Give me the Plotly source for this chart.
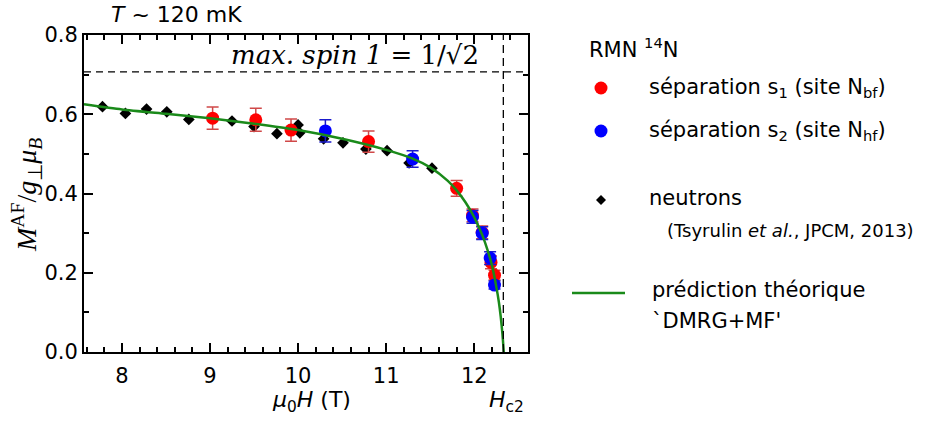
import plotly.graph_objects as go
import numpy as np

# ---- data ----
neut_x = [7.78, 8.04, 8.28, 8.51, 8.76, 9.25, 9.50, 9.76, 10.00, 10.02, 10.29, 10.51, 10.77, 11.01, 11.26, 11.52]
neut_y = [0.619, 0.602, 0.613, 0.606, 0.587, 0.583, 0.569, 0.551, 0.573, 0.553, 0.538, 0.528, 0.512, 0.508, 0.477, 0.464]

s1_x = [9.03, 9.52, 9.92, 10.80, 11.80, 11.98, 12.09, 12.19, 12.23]
s1_y = [0.590, 0.586, 0.560, 0.531, 0.413, 0.345, 0.302, 0.226, 0.194]
s1_err = [0.028, 0.029, 0.028, 0.027, 0.020, 0.016, 0.016, 0.016, 0.012]

s2_x = [10.31, 11.30, 11.98, 12.09, 12.18, 12.23]
s2_y = [0.558, 0.487, 0.341, 0.300, 0.237, 0.169]
s2_err = [0.028, 0.021, 0.016, 0.016, 0.016, 0.010]

th_x = [7.57, 8.0, 8.5, 9.0, 9.5, 10.0, 10.5, 11.0, 11.3, 11.5, 11.7, 11.8, 11.9, 12.0, 12.05, 12.1, 12.15, 12.2, 12.25, 12.28, 12.30, 12.32, 12.335]
th_y = [0.625, 0.612, 0.601, 0.590, 0.576, 0.560, 0.538, 0.510, 0.488, 0.466, 0.432, 0.408, 0.378, 0.340, 0.316, 0.290, 0.258, 0.220, 0.165, 0.125, 0.090, 0.045, 0.0]

max_spin = 1 / np.sqrt(2)
hc2 = 12.33
x_range = [7.57, 12.61]
y_range = [0.0, 0.8]
x_ticks = [8, 9, 10, 11, 12]
y_ticks = [0.0, 0.2, 0.4, 0.6, 0.8]

SANS = "DejaVu Sans, Arial, sans-serif"
SERIF = "DejaVu Serif, serif"
SERIF2 = "Liberation Serif, Times New Roman, serif"

fig = go.Figure()

fig.add_trace(go.Scatter(x=neut_x, y=neut_y, mode="markers",
                         marker=dict(symbol="diamond", size=9, color="black"),
                         showlegend=False))
fig.add_trace(go.Scatter(x=s1_x, y=s1_y, mode="markers",
                         error_y=dict(type="data", array=s1_err, color="#d04848", thickness=1.5, width=6),
                         marker=dict(symbol="circle", size=13, color="#ff0000"),
                         showlegend=False))
fig.add_trace(go.Scatter(x=s2_x, y=s2_y, mode="markers",
                         error_y=dict(type="data", array=s2_err, color="#1a1acc", thickness=1.5, width=6),
                         marker=dict(symbol="circle", size=13, color="#0000ff"),
                         showlegend=False))
fig.add_trace(go.Scatter(x=th_x, y=th_y, mode="lines",
                         line=dict(color="#1a8a1a", width=2.5, shape="spline", smoothing=0.6),
                         showlegend=False))

# reference dashed lines
fig.add_shape(type="line", xref="paper", yref="y", x0=0, x1=1, y0=max_spin, y1=max_spin,
              line=dict(color="black", width=1.3, dash="7px,5px"))
fig.add_shape(type="line", xref="x", yref="paper", x0=hc2, x1=hc2, y0=0, y1=1,
              line=dict(color="black", width=1.3, dash="8px,5px"))

# ---- layout geometry ----
L, R, T, B = 84, 528, 35, 352
W = R - L
H = B - T


def px(xp):
    return (xp - L) / W


def py(yp):
    return (B - yp) / H


ann = []


def add_text(text, xp, yp, size=20, xanchor="left", family=SANS, angle=0):
    ann.append(dict(text=text, x=px(xp), y=py(yp), xref="paper", yref="paper",
                    xanchor=xanchor, yanchor="middle", showarrow=False, textangle=angle,
                    font=dict(family=family, size=size, color="black")))


add_text("<i>T</i> ~ 120 mK", 176, 15, size=22, xanchor="center")
add_text("<i>max. spin 1</i> = 1/√2", 355, 55, size=26, xanchor="center", family=SERIF)
add_text("<i>μ</i><sub>0</sub><i>H</i> (T)", 311, 402, size=22, xanchor="center")
add_text("<i>H</i><sub>c2</sub>", 506, 402, size=22, xanchor="center")
add_text("<i>M</i><sup>AF</sup>/<i>g</i><sub>⊥</sub><i>μ</i><sub><i>B</i></sub>", 26, 195, size=28,
         xanchor="center", family=SERIF2, angle=-90)

add_text("RMN <sup>14</sup>N", 587, 48, size=21)
add_text("séparation s<sub>1</sub> (site N<sub>bf</sub>)", 647, 88, size=21)
add_text("séparation s<sub>2</sub> (site N<sub>hf</sub>)", 647, 131, size=21)
add_text("neutrons", 647, 198, size=21)
add_text("(Tsyrulin <i>et al.</i>, JPCM, 2013)", 665, 231, size=18)
add_text("prédiction théorique", 650, 290, size=21)
add_text("`DMRG+MF'", 650, 321, size=21)

# legend glyphs
r = 6.5
for cy, col in [(88, "#ff0000"), (131, "#0000ff")]:
    fig.add_shape(type="circle", xref="paper", yref="paper",
                  x0=px(601 - r), x1=px(601 + r), y0=py(cy + r), y1=py(cy - r),
                  fillcolor=col, line=dict(width=0))
d = 5
fig.add_shape(type="path", xref="paper", yref="paper",
              path=f"M {px(601)} {py(200 - d)} L {px(601 + d)} {py(200)} L {px(601)} {py(200 + d)} L {px(601 - d)} {py(200)} Z",
              fillcolor="black", line=dict(width=0))
fig.add_shape(type="line", xref="paper", yref="paper", x0=px(572), x1=px(625), y0=py(293), y1=py(293),
              line=dict(color="#1a8a1a", width=2.5))

axis_common = dict(showline=True, linewidth=2, linecolor="black", mirror="allticks",
                   ticks="inside", ticklen=9, tickwidth=2, tickcolor="black",
                   showgrid=False, zeroline=False,
                   tickfont=dict(family=SANS, size=21, color="black"))

fig.update_xaxes(range=x_range, tickvals=x_ticks, ticktext=[str(v) for v in x_ticks],
                 ticklabelstandoff=4,
                 minor=dict(ticks="inside", ticklen=5, tickwidth=1.5, dtick=0.2, tick0=8, tickcolor="black"),
                 **axis_common)
fig.update_yaxes(range=y_range, tickvals=y_ticks, ticktext=[f"{v:.1f}" for v in y_ticks],
                 minor=dict(ticks="inside", ticklen=5, tickwidth=1.5, dtick=0.1, tick0=0, tickcolor="black"),
                 **axis_common)

fig.update_layout(width=940, height=426, margin=dict(l=L, r=940 - R, t=T, b=426 - B, autoexpand=False),
                  paper_bgcolor="white", plot_bgcolor="white", annotations=ann, showlegend=False)

fig.write_html("out.html", config={"displayModeBar": False},
               post_script="document.body.style.margin='0px';document.body.style.overflow='hidden';")
